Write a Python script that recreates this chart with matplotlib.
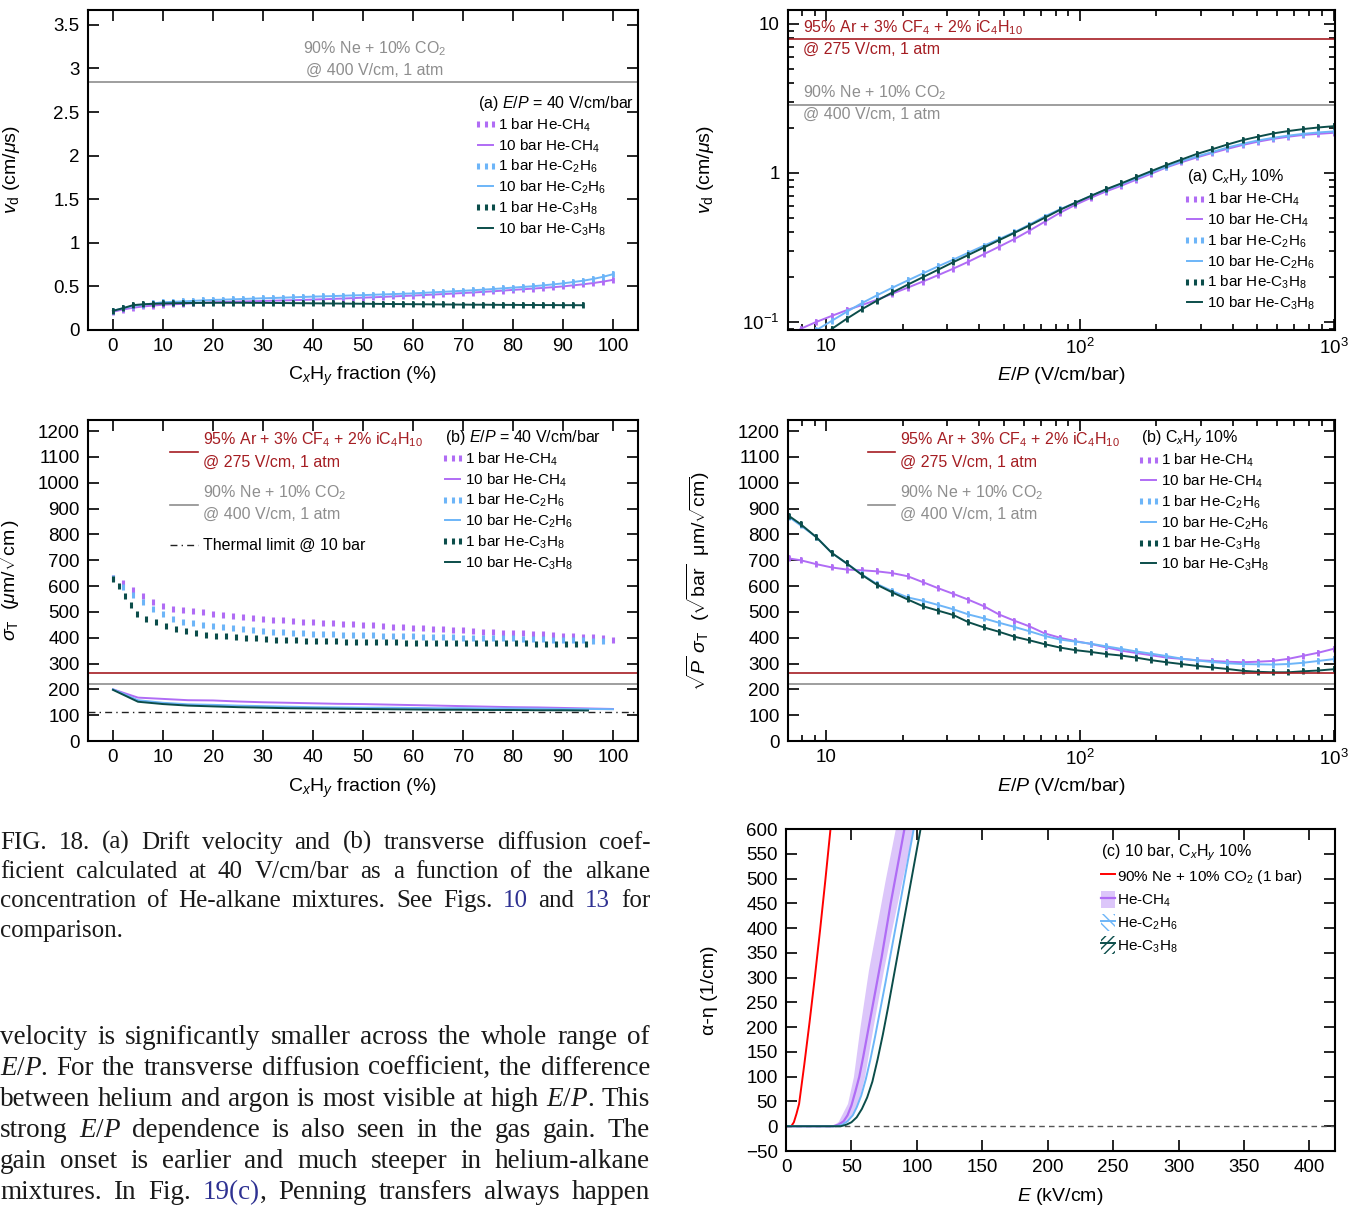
import numpy as np
import matplotlib
matplotlib.use("Agg")
import matplotlib.pyplot as plt
from matplotlib.lines import Line2D
from matplotlib.patches import Patch
from matplotlib.legend_handler import HandlerLine2D

plt.rcParams['font.family'] = ['Liberation Sans', 'DejaVu Sans']
plt.rcParams['mathtext.fontset'] = 'custom'
plt.rcParams['mathtext.rm'] = 'Liberation Sans'
plt.rcParams['mathtext.it'] = 'Liberation Sans:italic'
plt.rcParams['mathtext.bf'] = 'Liberation Sans:bold'

W, H = 1369, 1210
nan = np.nan

# colours
c_ch4 = '#b06cf5'
c_c2h6 = '#6db5f8'
c_c3h8 = '#0b4d4a'
c_ar = '#a51d22'
c_ne = '#8e8e8e'

# ---------- (a) drift velocity vs alkane fraction, E/P = 40 V/cm/bar
frac = np.arange(0, 101, 2)
frac_c3 = np.arange(0, 95, 2)
vd_frac_ch4 = [0.210, 0.235, 0.255, 0.270, 0.280, 0.290, 0.295, 0.300, 0.307, 0.313,
               0.318, 0.321, 0.324, 0.327, 0.330, 0.333, 0.336, 0.339, 0.342, 0.345,
               0.349, 0.353, 0.357, 0.361, 0.366, 0.371, 0.375, 0.380, 0.385, 0.390,
               0.395, 0.400, 0.406, 0.412, 0.418, 0.424, 0.430, 0.437, 0.444, 0.452,
               0.460, 0.467, 0.475, 0.483, 0.491, 0.500, 0.512, 0.524, 0.538, 0.555, 0.575]
vd_frac_c2h6 = [0.220, 0.250, 0.275, 0.290, 0.305, 0.318, 0.323, 0.328, 0.334, 0.340,
                0.345, 0.348, 0.352, 0.356, 0.360, 0.364, 0.367, 0.371, 0.375, 0.379,
                0.383, 0.386, 0.389, 0.393, 0.397, 0.400, 0.404, 0.408, 0.412, 0.416,
                0.420, 0.426, 0.432, 0.438, 0.444, 0.450, 0.456, 0.463, 0.470, 0.478,
                0.486, 0.494, 0.502, 0.512, 0.523, 0.535, 0.550, 0.565, 0.585, 0.610, 0.640]
vd_frac_c3h8 = [0.220, 0.250, 0.285, 0.295, 0.300, 0.305, 0.307, 0.309, 0.310, 0.311,
                0.312, 0.312, 0.312, 0.312, 0.311, 0.311, 0.310, 0.309, 0.308, 0.307,
                0.306, 0.305, 0.304, 0.303, 0.302, 0.301, 0.300, 0.299, 0.298, 0.297,
                0.296, 0.295, 0.294, 0.293, 0.292, 0.291, 0.290, 0.290, 0.289, 0.288,
                0.288, 0.287, 0.287, 0.286, 0.286, 0.285, 0.285, 0.284]
vd_ne = 2.84
vd_ar = 7.9

# ---------- (a) drift velocity vs E/P, 10 % alkane
EP = [7.1, 7.9, 9.1, 10.5, 12.0, 13.8, 15.8, 18.2, 20.9, 24.0, 27.5, 31.6, 36.3,
      41.7, 47.9, 55.0, 63.1, 72.4, 83.2, 95.5, 110, 126, 145, 166, 191, 219, 251,
      288, 331, 380, 437, 501, 575, 661, 759, 871, 1000]
vd_ch4 = [nan, 0.090, 0.100, 0.110, 0.120, 0.130, 0.141, 0.155, 0.170, 0.187, 0.206,
          0.228, 0.254, 0.285, 0.320, 0.360, 0.410, 0.470, 0.540, 0.610, 0.680, 0.750,
          0.820, 0.900, 0.990, 1.09, 1.18, 1.27, 1.36, 1.45, 1.54, 1.62, 1.69, 1.75,
          1.80, 1.83, 1.86]
vd_c2h6 = [nan, nan, 0.088, 0.102, 0.117, 0.134, 0.151, 0.170, 0.190, 0.212, 0.236,
           0.262, 0.292, 0.325, 0.360, 0.400, 0.450, 0.510, 0.570, 0.630, 0.700, 0.770,
           0.840, 0.920, 1.01, 1.10, 1.20, 1.29, 1.38, 1.48, 1.57, 1.65, 1.72, 1.78,
           1.83, 1.87, 1.90]
vd_c3h8 = [nan, nan, nan, 0.090, 0.105, 0.122, 0.139, 0.158, 0.178, 0.200, 0.224,
           0.252, 0.282, 0.316, 0.354, 0.396, 0.444, 0.500, 0.565, 0.630, 0.700, 0.775,
           0.850, 0.935, 1.03, 1.13, 1.23, 1.34, 1.44, 1.55, 1.66, 1.75, 1.84, 1.91,
           1.97, 2.02, 2.06]

# ---------- (b) transverse diffusion vs alkane fraction
sig1_ch4 = [630, 610, 584, 562, 540, 522, 512, 508, 504, 498, 492, 488, 484, 480, 476,
            473, 470, 467, 465, 462, 460, 458, 456, 454, 452, 450, 448, 446, 443, 440,
            438, 436, 434, 432, 430, 428, 426, 424, 422, 420, 419, 417, 415, 413, 410,
            408, 406, 404, 401, 397, 392]
sig1_c2h6 = [630, 598, 566, 540, 512, 490, 472, 462, 455, 449, 444, 440, 436, 432, 428,
             425, 423, 421, 419, 417, 415, 414, 413, 412, 411, 410, 409, 408, 407, 406,
             405, 404, 403, 402, 401, 400, 399, 399, 398, 397, 397, 396, 395, 394, 393,
             392, 391, 390, 389, 388, nan]
frac_c3_1bar = np.concatenate([[0, 1.2, 2.4, 3.6, 4.8], np.arange(6.6, 95, 2)])
sig1_c3h8 = [629, 600, 562, 525, 492, 473, 460, 444, 435, 426, 418, 412, 408, 405, 402,
             399, 397, 395, 393, 391, 390, 389, 388, 387, 386, 385, 384, 383, 383, 382,
             382, 381, 381, 380, 380, 380, 379, 379, 379, 379, 378, 378, 378, 378, 377,
             377, 377, 376, 376, 375]
frac10 = np.arange(0, 101, 5)
frac10_c3 = np.arange(0, 96, 5)
sig10_ch4 = [200, 168, 163, 158, 157, 153, 150, 148, 146, 144, 143, 141, 139, 137, 135,
             133, 131, 130, 128, 126, 124]
sig10_c2h6 = [200, 158, 148, 142, 140, 137, 135, 133, 131, 130, 129, 129, 128, 127, 127,
              126, 126, 125, 124, 124, 123]
sig10_c3h8 = [198, 152, 143, 137, 134, 131, 129, 127, 126, 125, 124, 123, 122, 121, 121,
              120, 120, 119, 119, 118]
sig_ar = 265
sig_ne = 220
sig_thermal = 112

# ---------- (b) sqrt(P) sigma_T vs E/P
psig_ch4 = [707, 700, 685, 672, 664, 661, 657, 650, 638, 615, 592, 570, 547, 522, 490,
            466, 444, 417, 400, 387, 376, 363, 350, 341, 332, 323, 318, 313, 310, 307,
            305, 307, 310, 318, 330, 342, 357]
psig_c2h6 = [868, 835, 790, 728, 688, 645, 608, 580, 556, 543, 527, 510, 490, 475, 458,
             442, 425, 407, 393, 385, 377, 367, 357, 347, 338, 329, 319, 312, 306, 301,
             298, 297, 296, 298, 303, 310, 317]
psig_c3h8 = [872, 840, 790, 728, 688, 643, 605, 575, 548, 522, 505, 488, 460, 440, 423,
             404, 390, 375, 362, 352, 345, 337, 331, 323, 313, 305, 298, 291, 285, 279,
             272, 268, 266, 266, 270, 273, 278]

# ---------- (c) effective Townsend coefficient
E_ne = [0, 4, 6, 8, 10, 14, 18, 22, 26, 30, 34, 36]
g_ne = [0, 0, 8, 25, 45, 125, 210, 300, 395, 495, 600, 650]
E_ch4 = [0, 36, 40, 44, 47, 50, 53, 56, 59, 62.5, 66, 69.5, 73, 76.5, 80, 83.5, 87, 90.5, 94]
g_ch4 = [0, 0, 3, 10, 22, 42, 70, 100, 140, 190, 240, 290, 340, 395, 450, 500, 550, 600, 650]
g_band = [0, 10, 46, 100, 200, 315, 400, 500, 600, 650]
E_band_lo = [35, 40, 47, 51.5, 56.5, 63, 69, 76, 83.5, 87]
E_band_hi = [38, 47, 55, 60, 66.5, 74.5, 81, 89, 97.3, 101]
E_c2h6 = [0, 38, 43, 47, 51, 54, 57.5, 61, 64.5, 68, 72, 76, 80, 84, 88, 92, 96, 100]
g_c2h6 = [0, 0, 3, 10, 22, 38, 62, 95, 135, 180, 235, 290, 348, 405, 462, 520, 577, 635]
E_c3h8 = [0, 42, 46, 50, 54, 58, 62, 66, 70, 74, 78, 82, 86, 90, 94, 98, 102, 106]
g_c3h8 = [0, 0, 3, 8, 18, 35, 58, 90, 135, 185, 240, 298, 356, 414, 472, 530, 588, 646]

fig = plt.figure(figsize=(W / 100, H / 100), dpi=100)


def axes_px(x0, y0, x1, y1):
    return fig.add_axes([x0 / W, 1 - y1 / H, (x1 - x0) / W, (y1 - y0) / H])


def style(ax):
    ax.tick_params(which='both', direction='in', top=True, right=True,
                   labelsize=13.5, width=1.2, pad=6)
    ax.tick_params(which='major', length=8)
    ax.tick_params(which='minor', length=4)
    for s in ax.spines.values():
        s.set_linewidth(1.5)


def fp(x, y):
    return (x / W, 1 - y / H)


gas_labels_1 = ['1 bar He-CH$_4$', '10 bar He-CH$_4$', '1 bar He-C$_2$H$_6$',
                '10 bar He-C$_2$H$_6$', '1 bar He-C$_3$H$_8$', '10 bar He-C$_3$H$_8$']


def gas_handles():
    hs = []
    for c in (c_ch4, c_c2h6, c_c3h8):
        hs.append(Line2D([], [], ls='none', marker='|', ms=5, mew=2.2, color=c))
        hs.append(Line2D([], [], ls='-', lw=1.4, color=c))
    return hs


def gas_legend(ax, title, x, y):
    leg = ax.legend(gas_handles(), gas_labels_1, title=title, loc='upper left',
                    bbox_to_anchor=fp(x, y), bbox_transform=fig.transFigure,
                    frameon=False, fontsize=11, title_fontsize=11.5, alignment='left',
                    handlelength=1.0, handletextpad=0.3, labelspacing=0.22,
                    borderpad=0, borderaxespad=0,
                    handler_map={Line2D: HandlerLine2D(marker_pad=0.0, numpoints=3)})
    return leg


def log_ticks(ax):
    ax.set_xscale('log')
    ax.set_xticks([10, 100, 1000], ['10', '$10^2$', '$10^3$'])
    ax.set_xlim(7.05, 1012)


# ---- panel (a) left
ax1 = axes_px(88, 10, 638, 330)
style(ax1)
for y, c in ((vd_frac_ch4, c_ch4), (vd_frac_c2h6, c_c2h6)):
    ax1.plot(frac, y, ls='none', marker='|', ms=5, mew=2.0, color=c)
    ax1.plot(frac, y, lw=1.4, color=c, marker='|', ms=5, mew=1.2)
ax1.plot(frac_c3, vd_frac_c3h8, ls='none', marker='|', ms=5, mew=2.0, color=c_c3h8)
ax1.plot(frac_c3, vd_frac_c3h8, lw=1.4, color=c_c3h8, marker='|', ms=5, mew=1.2)
ax1.axhline(vd_ne, color=c_ne, lw=1.2)
ax1.text(0.522, 0.878, '90% Ne + 10% CO$_2$', transform=ax1.transAxes, ha='center',
         va='center', color=c_ne, fontsize=11.5)
ax1.text(0.522, 0.8125, '@ 400 V/cm, 1 atm', transform=ax1.transAxes, ha='center',
         va='center', color=c_ne, fontsize=11.5)
ax1.set_xlim(-5, 105)
ax1.set_ylim(0, 3.67)
ax1.set_xticks(np.arange(0, 101, 10))
ax1.set_yticks([0, 0.5, 1, 1.5, 2, 2.5, 3, 3.5], ['0', '0.5', '1', '1.5', '2', '2.5', '3', '3.5'])
ax1.set_xlabel('C$_x$H$_y$ fraction (%)', fontsize=14)
ax1.set_ylabel(r'$v_{\rm d}$ (cm/$\mu$s)', fontsize=14)
ax1.xaxis.set_label_coords(0.5, -0.11)
ax1.yaxis.set_label_coords(-0.12, 0.5)
gas_legend(ax1, r'(a) $E/P$ = 40 V/cm/bar', 478, 94)

# ---- panel (a) right
ax2 = axes_px(788, 10, 1335, 330)
style(ax2)
for y, c in ((vd_ch4, c_ch4), (vd_c2h6, c_c2h6), (vd_c3h8, c_c3h8)):
    ax2.plot(EP, y, ls='none', marker='|', ms=5, mew=2.0, color=c)
    ax2.plot(EP, y, lw=1.4, color=c, marker='|', ms=5, mew=1.2)
ax2.axhline(vd_ar, color=c_ar, lw=1.2)
ax2.axhline(vd_ne, color=c_ne, lw=1.2)
log_ticks(ax2)
ax2.set_yscale('log')
ax2.set_ylim(0.0884, 12.4)
ax2.set_yticks([0.1, 1, 10], ['$10^{-1}$', '1', '10'])
tx = 0.027
ax2.text(tx, 0.944, '95% Ar + 3% CF$_4$ + 2% iC$_4$H$_{10}$', transform=ax2.transAxes,
         va='center', color=c_ar, fontsize=11.5)
ax2.text(tx, 0.878, '@ 275 V/cm, 1 atm', transform=ax2.transAxes, va='center',
         color=c_ar, fontsize=11.5)
ax2.text(tx, 0.741, '90% Ne + 10% CO$_2$', transform=ax2.transAxes, va='center',
         color=c_ne, fontsize=11.5)
ax2.text(tx, 0.675, '@ 400 V/cm, 1 atm', transform=ax2.transAxes, va='center',
         color=c_ne, fontsize=11.5)
ax2.set_xlabel('$E/P$ (V/cm/bar)', fontsize=14)
ax2.set_ylabel(r'$v_{\rm d}$ (cm/$\mu$s)', fontsize=14)
ax2.xaxis.set_label_coords(0.5, -0.11)
ax2.yaxis.set_label_coords(-0.132, 0.5)
gas_legend(ax2, '(a) C$_x$H$_y$ 10%', 1187, 167)

# ---- panel (b) left
ax3 = axes_px(88, 420, 638, 741)
style(ax3)
ax3.plot(frac, sig1_ch4, ls='none', marker='|', ms=5, mew=2.2, color=c_ch4)
ax3.plot(frac, sig1_c2h6, ls='none', marker='|', ms=5, mew=2.2, color=c_c2h6)
ax3.plot(frac_c3_1bar, sig1_c3h8, ls='none', marker='|', ms=5, mew=2.2, color=c_c3h8)
ax3.plot(frac10, sig10_ch4, lw=1.4, color=c_ch4)
ax3.plot(frac10, sig10_c2h6, lw=1.4, color=c_c2h6)
ax3.plot(frac10_c3, sig10_c3h8, lw=1.4, color=c_c3h8)
ax3.axhline(sig_ar, color=c_ar, lw=1.2)
ax3.axhline(sig_ne, color=c_ne, lw=1.2)
ax3.axhline(sig_thermal, color='#222222', lw=1.0, ls=(0, (5, 3, 1, 3)))
ax3.set_xlim(-5, 105)
ax3.set_ylim(0, 1243)
ax3.set_xticks(np.arange(0, 101, 10))
ax3.set_yticks(np.arange(0, 1201, 100))
ax3.set_xlabel('C$_x$H$_y$ fraction (%)', fontsize=14)
ax3.set_ylabel(r'$\sigma_{\rm T}$  ($\mu$m/$\sqrt{\rm cm}$)', fontsize=14)
ax3.xaxis.set_label_coords(0.5, -0.11)
ax3.yaxis.set_label_coords(-0.12, 0.5)
gas_legend(ax3, r'(b) $E/P$ = 40 V/cm/bar', 445, 428)


def ref_key(ax, x_seg, x_txt, thermal):
    a0 = ax.get_position()
    def ax_y(py):
        return ((1 - py / H) - a0.y0) / a0.height
    def ax_x(px):
        return (px / W - a0.x0) / a0.width
    ax.plot([ax_x(x_seg[0]), ax_x(x_seg[1])], [ax_y(452)] * 2, color=c_ar, lw=1.2,
            transform=ax.transAxes)
    ax.text(ax_x(x_txt), ax_y(440), '95% Ar + 3% CF$_4$ + 2% iC$_4$H$_{10}$',
            transform=ax.transAxes, va='center', color=c_ar, fontsize=11.5)
    ax.text(ax_x(x_txt), ax_y(462), '@ 275 V/cm, 1 atm', transform=ax.transAxes,
            va='center', color=c_ar, fontsize=11.5)
    ax.plot([ax_x(x_seg[0]), ax_x(x_seg[1])], [ax_y(505)] * 2, color=c_ne, lw=1.2,
            transform=ax.transAxes)
    ax.text(ax_x(x_txt), ax_y(493), '90% Ne + 10% CO$_2$', transform=ax.transAxes,
            va='center', color=c_ne, fontsize=11.5)
    ax.text(ax_x(x_txt), ax_y(514), '@ 400 V/cm, 1 atm', transform=ax.transAxes,
            va='center', color=c_ne, fontsize=11.5)
    if thermal:
        ax.plot([ax_x(x_seg[0]), ax_x(x_seg[1])], [ax_y(545)] * 2, color='#222222',
                lw=1.0, ls=(0, (5, 3, 1, 3)), transform=ax.transAxes)
        ax.text(ax_x(x_txt), ax_y(545), 'Thermal limit @ 10 bar', transform=ax.transAxes,
                va='center', color='black', fontsize=11.5)


ref_key(ax3, (170, 198), 203, True)

# ---- panel (b) right
ax4 = axes_px(788, 420, 1335, 741)
style(ax4)
for y, c in ((psig_ch4, c_ch4), (psig_c2h6, c_c2h6), (psig_c3h8, c_c3h8)):
    ax4.plot(EP, y, ls='none', marker='|', ms=5, mew=2.0, color=c)
    ax4.plot(EP, y, lw=1.4, color=c, marker='|', ms=5, mew=1.2)
ax4.axhline(sig_ar, color=c_ar, lw=1.2)
ax4.axhline(sig_ne, color=c_ne, lw=1.2)
log_ticks(ax4)
ax4.set_ylim(0, 1243)
ax4.set_yticks(np.arange(0, 1201, 100))
ax4.set_xlabel('$E/P$ (V/cm/bar)', fontsize=14)
ax4.set_ylabel(r'$\sqrt{P}\ \sigma_{\rm T}$  ($\sqrt{\rm bar}\ \ \mu$m/$\sqrt{\rm cm}$)',
               fontsize=14)
ax4.xaxis.set_label_coords(0.5, -0.11)
ax4.yaxis.set_label_coords(-0.139, 0.5)
ref_key(ax4, (868, 895), 900, False)
gas_legend(ax4, '(b) C$_x$H$_y$ 10%', 1141, 428)

# ---- panel (c)
ax5 = axes_px(786, 829, 1335, 1151)
style(ax5)
ax5.axhline(0, color='#555555', lw=1.0, ls=(0, (4, 3)))
ax5.fill_betweenx(g_band, E_band_lo, E_band_hi, color='#dcc6fa', lw=0)
ax5.plot(E_ne, g_ne, color='#ff0000', lw=1.4)
ax5.plot(E_ch4, g_ch4, color=c_ch4, lw=1.6)
ax5.plot(E_c2h6, g_c2h6, color=c_c2h6, lw=1.4)
ax5.plot(E_c3h8, g_c3h8, color=c_c3h8, lw=1.4)
ax5.set_xlim(0, 419.5)
ax5.set_ylim(-50, 600)
ax5.set_xticks(np.arange(0, 401, 50))
ax5.set_yticks(np.arange(-50, 601, 50), ['\u221250'] + [str(v) for v in range(0, 601, 50)])
ax5.set_xlabel('$E$ (kV/cm)', fontsize=14)
ax5.set_ylabel('\u03b1-\u03b7 (1/cm)', fontsize=14)
ax5.xaxis.set_label_coords(0.5, -0.11)
ax5.yaxis.set_label_coords(-0.124, 0.5)
h_c = [Line2D([], [], color='#ff0000', lw=1.4),
       (Patch(facecolor='#dcc6fa', lw=0), Line2D([], [], color=c_ch4, lw=1.6)),
       (Patch(facecolor='none', edgecolor=c_c2h6, hatch='\\\\\\', lw=0),
        Line2D([], [], color=c_c2h6, lw=1.4)),
       (Patch(facecolor='none', edgecolor=c_c3h8, hatch='////', lw=0),
        Line2D([], [], color=c_c3h8, lw=1.4))]
ax5.legend(h_c, ['90% Ne + 10% CO$_2$ (1 bar)', 'He-CH$_4$', 'He-C$_2$H$_6$', 'He-C$_3$H$_8$'],
           title='(c) 10 bar, C$_x$H$_y$ 10%', loc='upper left', bbox_to_anchor=fp(1101, 842),
           bbox_transform=fig.transFigure, frameon=False, fontsize=11, title_fontsize=11.5,
           alignment='left', handlelength=0.9, handleheight=1.4, handletextpad=0.15,
           labelspacing=0.3, borderpad=0, borderaxespad=0)

# ---------- caption and body text (justified)
caption = ["FIG. 18.  (a) Drift velocity and (b) transverse diffusion coef-",
           "ficient calculated at 40 V/cm/bar as a function of the alkane",
           "concentration of He-alkane mixtures. See Figs. #10 and #13 for",
           "comparison."]
body = ["velocity is significantly smaller across the whole range of",
        "E/P. For the transverse diffusion coefficient, the difference",
        "between helium and argon is most visible at high E/P. This",
        "strong E/P dependence is also seen in the gas gain. The",
        "gain onset is earlier and much steeper in helium-alkane",
        "mixtures. In Fig. #19(c), Penning transfers always happen"]


def pieces(word):
    if word.startswith('E/P'):
        return [('E', 'i'), ('/', 'n'), ('P', 'i'), (word[3:], 'n')]
    if word.startswith('#'):
        core = word[1:].rstrip('.,')
        return [(core, 'b'), (word[1 + len(core):], 'n')]
    return [(word, 'n')]


def put_lines(lines, baselines, size, x0, x1, justify):
    r = fig.canvas.get_renderer()
    space = size * 0.25 * 100 / 72
    for line, yb, jus in zip(lines, baselines, justify):
        items = []
        for w in line.split():
            objs = []
            for txt, st in pieces(w):
                if not txt:
                    continue
                t = fig.text(0, 1 - yb / H, txt, fontsize=size, family='Liberation Serif',
                             color='#2e3192' if st == 'b' else '#1a1a1a',
                             style='italic' if st == 'i' else 'normal', va='baseline')
                objs.append(t)
            items.append(objs)
        widths = [[t.get_window_extent(r).width for t in objs] for objs in items]
        total = sum(sum(ws) for ws in widths)
        gap = (x1 - x0 - total) / (len(items) - 1) if jus else space
        gap = max(gap, 0.6 * space)
        x = x0
        for objs, ws in zip(items, widths):
            for t, w in zip(objs, ws):
                t.set_x(x / W)
                x += w
            x += gap


put_lines(caption, [849, 878, 907, 937], 18, 0, 650, [True, True, True, False])
put_lines(body, [1044, 1075, 1106, 1137, 1168, 1199], 19.5, 0, 650, [True] * 6)

fig.savefig('out.png', dpi=100)
